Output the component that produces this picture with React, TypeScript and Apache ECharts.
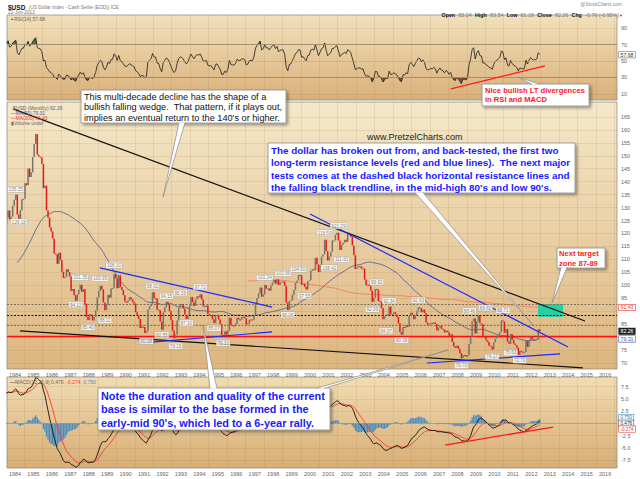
import React, { useEffect, useRef } from "react";
import * as echarts from "echarts";

const FONT = "'Liberation Sans', Arial, sans-serif";

// ---- Monthly closes of $USD, starting January 1980 ----
const FIRST_YEAR = 1980;
const closes1980s = [
  85.9, 88.5, 93.2, 91.0, 86.5, 85.2, 85.9, 86.5, 85.8, 88.7, 91.4, 93.9,
  96.5, 98.7, 97.4, 101.8, 107.0, 107.9, 112.4, 110.6, 105.9, 104.9, 101.2, 104.5,
  107.5, 110.3, 113.1, 111.4, 111.8, 117.1, 116.3, 117.4, 120.4, 121.5, 120.0, 114.3,
  116.0, 117.4, 118.2, 118.0, 121.4, 123.3, 126.1, 128.9, 125.4, 126.5, 130.7, 133.0,
  135.0, 127.3, 125.5, 129.0, 133.2, 133.4, 139.4, 138.6, 145.1, 141.8, 143.6, 149.5,
  154.6, 158.4, 150.4, 149.7, 149.3, 146.8, 137.5, 138.5, 128.9, 126.1, 122.3, 120.8,
  118.1, 112.3, 112.0, 108.3, 112.6, 109.8, 105.2, 102.9, 103.2, 106.2, 105.1, 103.4,
  97.8, 98.6, 96.2, 94.0, 96.5, 98.3, 100.2, 97.4, 98.5, 92.9, 87.8, 86.6,
  88.8, 88.2, 86.4, 87.8, 90.3, 95.3, 97.8, 99.8, 98.4, 93.4, 90.4, 92.3,
  96.3, 95.2, 98.8, 98.9, 104.3, 102.6, 98.9, 103.9, 99.3, 98.2, 96.2, 93.6,
];
const closes1990s = [
  93.4, 94.1, 95.4, 94.6, 93.6, 92.9, 89.6, 88.3, 87.0, 83.5, 84.1, 83.9,
  81.6, 82.2, 90.6, 91.8, 92.9, 97.3, 95.0, 94.9, 90.6, 90.4, 86.0, 82.8,
  89.6, 91.5, 93.6, 92.6, 90.0, 86.5, 82.5, 79.6, 81.0, 86.4, 91.3, 92.8,
  92.5, 91.0, 88.7, 87.0, 88.5, 92.0, 95.5, 93.5, 92.0, 94.6, 95.8, 95.3,
  96.5, 94.5, 91.9, 91.6, 92.2, 88.9, 88.3, 88.6, 86.9, 85.4, 88.2, 88.6,
  86.8, 85.0, 80.8, 80.7, 82.2, 81.0, 82.5, 87.5, 84.7, 84.4, 84.3, 85.1,
  87.5, 86.8, 86.7, 87.7, 87.7, 87.3, 84.9, 85.2, 86.7, 86.8, 86.7, 88.3,
  93.2, 95.1, 96.9, 99.1, 95.6, 96.5, 100.1, 98.7, 98.8, 97.9, 99.9, 101.1,
  102.1, 100.6, 102.3, 100.1, 101.2, 101.4, 101.5, 99.8, 93.3, 90.5, 93.9, 94.2,
  96.3, 98.2, 100.9, 101.8, 104.0, 103.9, 100.2, 100.6, 99.4, 98.4, 101.6, 101.9,
];
const closes2000s = [
  105.6, 106.2, 105.8, 110.6, 108.1, 105.1, 107.7, 111.1, 112.0, 117.6, 113.2, 109.6,
  111.1, 112.9, 117.3, 117.3, 119.5, 120.3, 117.3, 113.6, 115.6, 116.4, 117.6, 116.8,
  120.3, 119.8, 118.7, 115.4, 111.6, 106.3, 106.9, 107.4, 107.3, 106.4, 106.5, 102.2,
  100.0, 100.2, 99.7, 97.9, 93.6, 95.2, 98.6, 98.3, 93.9, 93.6, 91.2, 86.9,
  88.0, 88.7, 88.4, 91.8, 88.8, 88.9, 89.6, 88.8, 87.8, 85.3, 82.0, 80.9,
  83.9, 83.7, 84.6, 84.0, 88.1, 89.4, 88.6, 86.9, 88.4, 90.0, 91.5, 91.2,
  89.6, 90.6, 89.3, 85.6, 84.8, 85.0, 85.4, 85.2, 85.7, 85.1, 82.5, 83.7,
  84.4, 83.2, 82.9, 81.8, 82.5, 81.9, 80.5, 81.1, 78.1, 76.4, 75.8, 76.7,
  75.5, 73.8, 71.8, 73.1, 73.0, 72.4, 73.1, 77.3, 80.0, 86.1, 87.2, 81.4,
  86.1, 88.4, 85.3, 85.1, 80.0, 80.1, 78.8, 78.1, 76.7, 76.4, 75.2, 77.9,
];
const closes2010s = [
  79.5, 80.3, 81.0, 81.9, 86.4, 86.0, 81.7, 83.1, 78.2, 77.4, 81.2, 79.0,
  77.5, 76.9, 75.9, 73.1, 74.6, 74.3, 74.0, 74.2, 78.5, 76.2, 78.5, 80.2,
  79.2, 78.8, 79.0, 79.3, 83.04, 82.26,
];

// ---- High / low value flags ----
const highFlagTimes = [1984.04, 1987.54, 1988.62, 1989.37, 1991.46, 1992.21, 1992.96, 1994.04, 1997.54, 1998.54, 1999.37, 2000.79, 2001.54, 2003.62, 2004.29, 2005.87, 2008.64, 2009.52, 2010.46];
const highFlagValues = [135.35, 101.35, 100.95, 106.1, 98.02, 94.15, 95.39, 97.72, 101.34, 102.96, 104.5, 118.59, 121.29, 99.62, 92.34, 92.63, 88.46, 89.62, 88.71];
const lowFlagTimes = [1984.21, 1987.29, 1987.96, 1988.88, 1991.12, 1991.96, 1992.71, 1993.29, 1994.79, 1995.29, 1998.79, 1999.71, 2001.04, 2001.71, 2003.37, 2004.12, 2004.96, 2008.21, 2009.87, 2010.87, 2011.37];
const lowFlagValues = [126.18, 94.12, 85.4, 88.11, 80.08, 82.55, 78.19, 87.1, 85.07, 79.33, 90.26, 97.55, 108.42, 111.61, 92.39, 84.07, 80.39, 70.7, 74.17, 75.63, 72.7];

// ---- Drawn trendlines / levels (time, value) ----
const wedgeTopLine = [[1983.89, 168.1], [2014.91, 86.2]];
const wedgeBottomLine = [[1984.27, 82.4], [2014.8, 68.1]];
const blueTop90s = [[1988.61, 106.7], [1997.94, 91.6]];
const blueBottom90s = [[1990.78, 77.7], [1997.94, 82.0]];
const blueTop2000s = [[2000.0, 127.5], [2013.99, 76.2]];
const blueBottom2000s = [[2006.34, 70.0], [2013.56, 73.5]];
const redLevel = 80.4;
const dashedLevels = [92.5, 88.5, 84.7];
const targetZone = [[2012.36, 87.8], [2013.72, 92.8]];
const rsiDivergence = [[2007.64, 16.1], [2012.74, 44.0]];
const macdDivergence = [[2007.32, -4.44], [2013.18, -0.76]];

// ---- Axis ticks ----
const yearLabels = [1984, 1985, 1986, 1987, 1988, 1989, 1990, 1991, 1992, 1993, 1994, 1995, 1996, 1997, 1998, 1999, 2000, 2001, 2002, 2003, 2004, 2005, 2006, 2007, 2008, 2009, 2010, 2011, 2012, 2013, 2014, 2015, 2016];
const priceTicks = [70, 75, 80, 85, 90, 95, 100, 105, 110, 115, 120, 125, 130, 135, 140, 145, 150, 155, 160, 165];
const priceLabels = [70, 75, 85, 95, 100, 105, 110, 115, 120, 125, 130, 135, 140, 145, 150, 155, 160, 165];
const rsiTicks = [10, 30, 50, 70, 90];
const macdTicks = [-7.5, -5, -2.5, 0, 2.5, 5, 7.5];
const macdLabelTicks = [-7.5, -5, -2.5, 2.5, 5, 7.5];

// ---- Legend texts ----
const lastRsiText = "57.68";
const ma50Text = "79.31";
const ma200Text = "91.43";
const closeText = "82.26";
const macdTexts = ["0.476", "-0.274", "0.750"];

const X_MIN = 1983.566;
const X_MAX = 2016.646;

function sma(arr: number[], n: number) {
  return arr.map((_, i) => {
    if (i < n - 1) return null;
    let s = 0;
    for (let k = i - n + 1; k <= i; k++) s += arr[k];
    return s / n;
  });
}
function ema(arr: (number | null)[], n: number) {
  const k = 2 / (n + 1);
  const out: (number | null)[] = [];
  let prev: number | null = null;
  let sum = 0, cnt = 0;
  arr.forEach((v) => {
    if (v == null) { out.push(null); return; }
    if (prev == null) {
      sum += v; cnt++;
      if (cnt === n) { prev = sum / n; out.push(prev); } else out.push(null);
    } else { prev = v * k + prev * (1 - k); out.push(prev); }
  });
  return out;
}
function rsiCalc(c: number[], n: number) {
  const out: (number | null)[] = c.map(() => null);
  let g = 0, l = 0;
  for (let i = 1; i <= n; i++) { const d = c[i] - c[i - 1]; if (d > 0) g += d; else l -= d; }
  g /= n; l /= n;
  out[n] = 100 - 100 / (1 + g / l);
  for (let i = n + 1; i < c.length; i++) {
    const d = c[i] - c[i - 1];
    g = (g * (n - 1) + Math.max(d, 0)) / n;
    l = (l * (n - 1) + Math.max(-d, 0)) / n;
    out[i] = l === 0 ? 100 : 100 - 100 / (1 + g / l);
  }
  return out;
}

export default function App() {
  const ref = useRef<HTMLDivElement>(null);
  useEffect(() => {
    if (!ref.current) return;
    const chart = echarts.init(ref.current, null, { renderer: "svg" });

    const closes = [...closes1980s, ...closes1990s, ...closes2000s, ...closes2010s];
    const times = closes.map((_, i) => FIRST_YEAR + (i + 0.5) / 12);
    const visible = (i: number) => times[i] >= X_MIN - 0.05;
    const pairs = (vals: (number | null)[]) =>
      vals.map((v, i) => (v == null || !visible(i) ? null : [times[i], v])).filter(Boolean);

    const candles = closes
      .map((c, i) => (i > 0 && visible(i) ? [times[i], closes[i - 1], c] : null))
      .filter(Boolean);
    const ma50 = sma(closes, 50);
    const ma200 = sma(closes, 200);
    const rsi = rsiCalc(closes, 14);
    const e12 = ema(closes, 12);
    const e26 = ema(closes, 26);
    const macd = e12.map((v, i) => (v == null || e26[i] == null ? null : v - (e26[i] as number)));
    const signal = ema(macd, 9);
    const hist = macd.map((v, i) => (v == null || signal[i] == null ? null : v - (signal[i] as number)));

    const grad = (a: string, b: string) =>
      new echarts.graphic.LinearGradient(0, 0, 0, 1, [
        { offset: 0, color: a },
        { offset: 1, color: b },
      ]);
    const GRID_COLOR = "rgba(150,110,60,0.22)";
    const gridBase = { left: 7, right: 23, show: true, borderColor: "#8c8478", borderWidth: 0.7, outerBoundsMode: "none", containLabel: false };
    const gridYears = yearLabels.map((y) => y + 0.5).filter((v) => v < X_MAX);

    const xAxis = (gi: number, showLabels: boolean) => ({
      type: "value",
      gridIndex: gi,
      min: X_MIN,
      max: X_MAX,
      axisLine: { show: false },
      axisTick: { show: false, customValues: gridYears },
      splitLine: { show: true, lineStyle: { color: GRID_COLOR, width: 0.6 } },
      axisLabel: {
        show: showLabels,
        customValues: yearLabels,
        formatter: (v: number) => String(Math.round(v)),
        fontSize: 5.5,
        color: "#666",
        margin: 3,
        fontFamily: FONT,
      },
    });
    const yAxis = (gi: number, min: number, max: number, ticks: number[], labels: number[], fmt?: (v: number) => string) => ({
      type: "value",
      gridIndex: gi,
      position: "right",
      min,
      max,
      axisLine: { show: false },
      axisTick: { show: false, customValues: ticks },
      splitLine: { show: true, lineStyle: { color: GRID_COLOR, width: 0.6 } },
      axisLabel: { customValues: labels, fontSize: 5.5, color: "#666", margin: 4, fontFamily: FONT, formatter: fmt || ((v: number) => String(v)) },
    });

    const trend = (data: number[][], color: string, width: number, xi = 1) => ({
      type: "line",
      xAxisIndex: xi,
      yAxisIndex: xi,
      data,
      symbol: "none",
      silent: true,
      lineStyle: { color, width },
      z: 6,
    });

    const flagLabel = (pos: string) => ({
      show: true,
      position: pos,
      distance: 1.5,
      formatter: (p: any) => p.value[1].toFixed(2),
      fontSize: 4.6,
      color: "#666",
      backgroundColor: "#fff",
      borderColor: "#aaa",
      borderWidth: 0.5,
      padding: [0.5, 1, 0, 1],
      fontFamily: FONT,
    });

    const option: any = {
      animation: false,
      backgroundColor: "#fff",
      grid: [
        { ...gridBase, top: 15, height: 85, backgroundColor: grad("#f2e1bb", "#d9b07a") },
        { ...gridBase, top: 102, height: 267, backgroundColor: grad("#f5e8c9", "#ddb680") },
        { ...gridBase, top: 377, height: 91, backgroundColor: grad("#f1dcb2", "#d7ad75") },
      ],
      xAxis: [xAxis(0, false), xAxis(1, true), xAxis(2, true)],
      yAxis: [
        yAxis(0, 2.44, 106.1, rsiTicks, rsiTicks),
        yAxis(1, 67.68, 170.77, priceTicks, priceLabels),
        yAxis(2, -9.14, 9.47, macdTicks, macdLabelTicks, (v: number) => v.toFixed(1)),
      ],
      series: [
        // RSI
        {
          type: "line", xAxisIndex: 0, yAxisIndex: 0, symbol: "none", silent: true,
          data: pairs(rsi.map((v) => (v == null ? null : Math.max(v, 70)))),
          lineStyle: { width: 0 }, areaStyle: { color: "#4d7a32", origin: 70, opacity: 1 }, z: 2,
        },
        {
          type: "line", xAxisIndex: 0, yAxisIndex: 0, symbol: "none", silent: true,
          data: pairs(rsi.map((v) => (v == null ? null : Math.min(v, 30)))),
          lineStyle: { width: 0 }, areaStyle: { color: "#8a4c3c", origin: 30, opacity: 1 }, z: 2,
        },
        {
          type: "line", xAxisIndex: 0, yAxisIndex: 0, symbol: "none", silent: true,
          data: pairs(rsi), lineStyle: { color: "#1a1a1a", width: 0.8 }, z: 4,
          markLine: {
            symbol: "none", silent: true, label: { show: false },
            data: [
              { yAxis: 70, lineStyle: { color: "#9b8b72", width: 0.9, type: "solid" } },
              { yAxis: 30, lineStyle: { color: "#9b8b72", width: 0.9, type: "solid" } },
              { yAxis: 50, lineStyle: { color: "#b8a482", width: 0.7, type: [2, 2] } },
            ],
          },
        },
        trend(rsiDivergence, "#ff1a1a", 1.3, 0),
        // Price
        {
          type: "line", xAxisIndex: 1, yAxisIndex: 1, symbol: "none", silent: true,
          data: pairs(ma200), lineStyle: { color: "#f27a6b", width: 0.9 }, z: 2,
          markArea: {
            silent: true,
            itemStyle: { color: "#27cfa6", opacity: 1 },
            data: [[{ coord: targetZone[0] }, { coord: targetZone[1] }]],
          },
        },
        {
          type: "line", xAxisIndex: 1, yAxisIndex: 1, symbol: "none", silent: true,
          data: pairs(ma50), lineStyle: { color: "#5a6494", width: 0.9 }, z: 3,
          markLine: {
            symbol: "none", silent: true, label: { show: false },
            data: [
              { yAxis: dashedLevels[0], lineStyle: { color: "#7d6f5a", width: 1.1, type: [2, 1.5] } },
              { yAxis: dashedLevels[1], lineStyle: { color: "#111", width: 1.2, type: [2, 1.5] } },
              { yAxis: dashedLevels[2], lineStyle: { color: "#7d6f5a", width: 1.1, type: [2, 1.5] } },
              { yAxis: redLevel, lineStyle: { color: "#ff1010", width: 1.4, type: "solid" } },
            ],
          },
        },
        {
          type: "custom", xAxisIndex: 1, yAxisIndex: 1, clip: true, silent: true,
          data: candles,
          encode: { x: 0, y: [1, 2] },
          renderItem: (params: any, api: any) => {
            const t = api.value(0), o = api.value(1), c = api.value(2);
            const top = api.coord([t, Math.max(o, c)]);
            const bot = api.coord([t, Math.min(o, c)]);
            const up = c >= o;
            const w = 1.5;
            return {
              type: "rect",
              shape: { x: top[0] - w / 2, y: top[1], width: w, height: Math.max(1, bot[1] - top[1]) },
              style: { fill: up ? "#74746a" : "#e11b1b" },
            };
          },
          z: 5,
        },
        trend(wedgeTopLine, "#111", 1.2),
        trend(wedgeBottomLine, "#111", 1.2),
        trend(blueTop90s, "#1a2cff", 1.2),
        trend(blueBottom90s, "#1a2cff", 1.2),
        trend(blueTop2000s, "#1a2cff", 1.2),
        trend(blueBottom2000s, "#1a2cff", 1.2),
        {
          type: "scatter", xAxisIndex: 1, yAxisIndex: 1, silent: true, z: 7,
          data: highFlagTimes.map((t, i) => [t, highFlagValues[i]]),
          symbol: "rect", symbolSize: 0.1, itemStyle: { color: "rgba(0,0,0,0)" },
          label: flagLabel("top"),
        },
        {
          type: "scatter", xAxisIndex: 1, yAxisIndex: 1, silent: true, z: 7,
          data: lowFlagTimes.map((t, i) => [t, lowFlagValues[i]]),
          symbol: "rect", symbolSize: 0.1, itemStyle: { color: "rgba(0,0,0,0)" },
          label: flagLabel("bottom"),
        },
        // MACD
        {
          type: "bar", xAxisIndex: 2, yAxisIndex: 2, silent: true,
          data: pairs(hist), barWidth: 1.3, itemStyle: { color: "#4a8cc2" }, z: 2,
          markLine: {
            symbol: "none", silent: true, label: { show: false },
            data: [{ yAxis: 0, lineStyle: { color: "#a59270", width: 0.6, type: "solid" } }],
          },
        },
        {
          type: "line", xAxisIndex: 2, yAxisIndex: 2, symbol: "none", silent: true,
          data: pairs(signal), lineStyle: { color: "#ff2a2a", width: 0.8 }, z: 3,
        },
        {
          type: "line", xAxisIndex: 2, yAxisIndex: 2, symbol: "none", silent: true,
          data: pairs(macd), lineStyle: { color: "#111", width: 0.9 }, z: 4,
        },
        trend(macdDivergence, "#ff1a1a", 1.3, 2),
      ],
    };
    chart.setOption(option);

    // ---- overlay graphics ----
    const px = (gi: number, v: number) => chart.convertToPixel({ gridIndex: gi } as any, [X_MAX, v]) as number[];
    const tag = (gi: number, v: number, text: string, color: string, bg: string, border: string, size = 5.2) => {
      const p = px(gi, v);
      return {
        type: "text", x: p[0] + 2, y: p[1], z: 120,
        style: {
          text, fontSize: size, fontFamily: FONT, fill: color, backgroundColor: bg,
          borderColor: border, borderWidth: 0.6, padding: [0.6, 1.5, 0.2, 1.5], verticalAlign: "middle", align: "left",
        },
      };
    };
    const box = (x: number, y: number, w: number, h: number) => ({
      type: "rect", z: 100, shape: { x, y, width: w, height: h },
      style: { fill: "#fff", stroke: "#8a8a8a", lineWidth: 0.8, shadowBlur: 3, shadowOffsetX: 2, shadowOffsetY: 2, shadowColor: "rgba(0,0,0,0.35)" },
    });
    const tail = (bx1: number, bx2: number, by: number, tx: number, ty: number) => [
      { type: "polygon", z: 101, shape: { points: [[bx1, by], [tx, ty], [bx2, by]] }, style: { fill: "#fff" } },
      { type: "polyline", z: 101, shape: { points: [[bx1, by], [tx, ty], [bx2, by]] }, style: { stroke: "#8a8a8a", lineWidth: 0.7, fill: null } },
    ];
    const txt = (x: number, y: number, text: string, size: number, color: string, weight: string, lh: number, align = "left") => ({
      type: "text", x, y, z: 102,
      style: { text, fontSize: size, fontFamily: FONT, fontWeight: weight, fill: color, lineHeight: lh, verticalAlign: "top", align },
    });

    const macdZero = px(2, 0)[1];
    const macdTagY = [macdZero - 5.8, macdZero, macdZero + 5.8];

    const graphics: any[] = [
      // header
      {
        type: "text", x: 8, y: 1, z: 110,
        style: {
          text: "{a|$USD} {b|(US Dollar Index - Cash Settle (EOD)) ICE}", verticalAlign: "top",
          rich: { a: { fontSize: 6.5, fontWeight: "bold", fill: "#111", fontFamily: FONT }, b: { fontSize: 4.8, fill: "#777", fontFamily: FONT } },
        },
      },
      txt(8, 9, "22-Jun-2012", 4.8, "#777", "normal", 6),
      txt(622, 1.5, "@StockCharts.com", 4.8, "#888", "normal", 6, "right"),
      {
        type: "text", x: 623, y: 9, z: 110,
        style: {
          text: "{b|Open} {v|83.04} {b|High} {v|83.54} {b|Low} {v|81.16} {b|Close} {v|82.26} {b|Chg} {v|-0.79 (-0.95%)}{r|▼}",
          align: "right", verticalAlign: "top",
          rich: {
            b: { fontSize: 5.3, fontWeight: "bold", fill: "#111", fontFamily: FONT },
            v: { fontSize: 5.3, fill: "#777", fontFamily: FONT },
            r: { fontSize: 4, fill: "#e00", fontFamily: FONT },
          },
        },
      },
      // panel legends
      {
        type: "text", x: 10, y: 16, z: 110,
        style: { text: "{i|▲}{t|RSI(14) " + lastRsiText + "}", verticalAlign: "top", rich: { i: { fontSize: 4, fill: "#4d7a32" }, t: { fontSize: 5, fill: "#666", fontFamily: FONT } } },
      },
      txt(13, 105, "$USD (Monthly) " + closeText, 5, "#666", "normal", 6),
      txt(11, 110.5, "—MA(50) " + ma50Text, 4.8, "#4a56a0", "normal", 6),
      txt(11, 115.5, "—MA(200) " + ma200Text, 4.8, "#f03a2a", "normal", 6),
      txt(11, 120.5, "▮Volume undef", 4.8, "#666", "normal", 6),
      {
        type: "text", x: 10, y: 379, z: 110,
        style: {
          text: "{k|—}{g|MACD(12,26,9) " + macdTexts[0] + ", }{r|" + macdTexts[1] + "}{g|, }{b|" + macdTexts[2] + "}",
          verticalAlign: "top",
          rich: {
            k: { fontSize: 5, fill: "#111", fontFamily: FONT },
            g: { fontSize: 5, fill: "#666", fontFamily: FONT },
            r: { fontSize: 5, fill: "#f03a2a", fontFamily: FONT },
            b: { fontSize: 5, fill: "#4a8cc2", fontFamily: FONT },
          },
        },
      },
      // value tags
      tag(0, parseFloat(lastRsiText), lastRsiText, "#333", "#fff", "#777"),
      tag(1, parseFloat(ma200Text), ma200Text, "#e33", "#fff", "#e33"),
      tag(1, parseFloat(closeText), closeText, "#fff", "#222", "#222"),
      tag(1, parseFloat(ma50Text), ma50Text, "#4a56a0", "#fff", "#4a56a0"),
      { ...tag(2, 0.75, macdTexts[2], "#2a6fb0", "#fff", "#4a8cc2", 4.6), y: macdTagY[0] },
      { ...tag(2, 0.476, macdTexts[0], "#222", "#fff", "#555", 4.6), y: macdTagY[1] },
      { ...tag(2, -0.274, macdTexts[1], "#e33", "#fff", "#e33", 4.6), y: macdTagY[2] },
      // wedge annotation
      box(81, 90, 205, 33),
      ...tail(179, 185, 122.6, 163, 197),
      txt(84, 91.5, "This multi-decade decline has the shape of a\nbullish falling wedge.  That pattern, if it plays out,\nimplies an eventual return to the 140's or higher.", 9.2, "#111", "normal", 10.6),
      // website
      txt(367, 132, "www.PretzelCharts.com", 9, "#222", "normal", 10),
      // blue annotation
      box(268, 143, 307, 50),
      ...tail(415, 423, 192.6, 533, 325),
      txt(271, 144.5, "The dollar has broken out from, and back-tested, the first two\nlong-term resistance levels (red and blue lines).  The next major\ntests comes at the dashed black horizontal resistance lines and\nthe falling black trendline, in the mid-high 80's and low 90's.", 9.9, "#1a1aff", "bold", 12.2),
      // red divergence annotation
      box(482, 84, 107, 22),
      ...tail(532, 540, 84.4, 518, 77),
      txt(485, 85.5, "Nice bullish LT divergences\nin RSI and MACD", 7.6, "#ff1a1a", "bold", 9.5),
      // next target
      box(557, 248, 48, 20),
      ...tail(561, 567, 267.6, 552, 303),
      txt(559, 249.3, "Next target\nzone 87-89", 7.6, "#ff1a1a", "bold", 9.2),
      // note annotation
      box(98, 388, 232, 42),
      ...tail(210, 217, 388.4, 203, 325),
      ...tail(316, 324, 388.4, 448, 350),
      txt(101, 389.5, "Note the duration and quality of the current\nbase is similar to the base formed in the\nearly-mid 90's, which led to a 6-year rally.", 10.9, "#1a1aff", "bold", 13.3),
    ];
    chart.setOption({ graphic: { elements: graphics } });

    return () => chart.dispose();
  }, []);

  return (
    <div
      ref={ref}
      style={{ position: "fixed", left: 0, top: 0, width: 640, height: 479, background: "#fff" }}
    />
  );
}
